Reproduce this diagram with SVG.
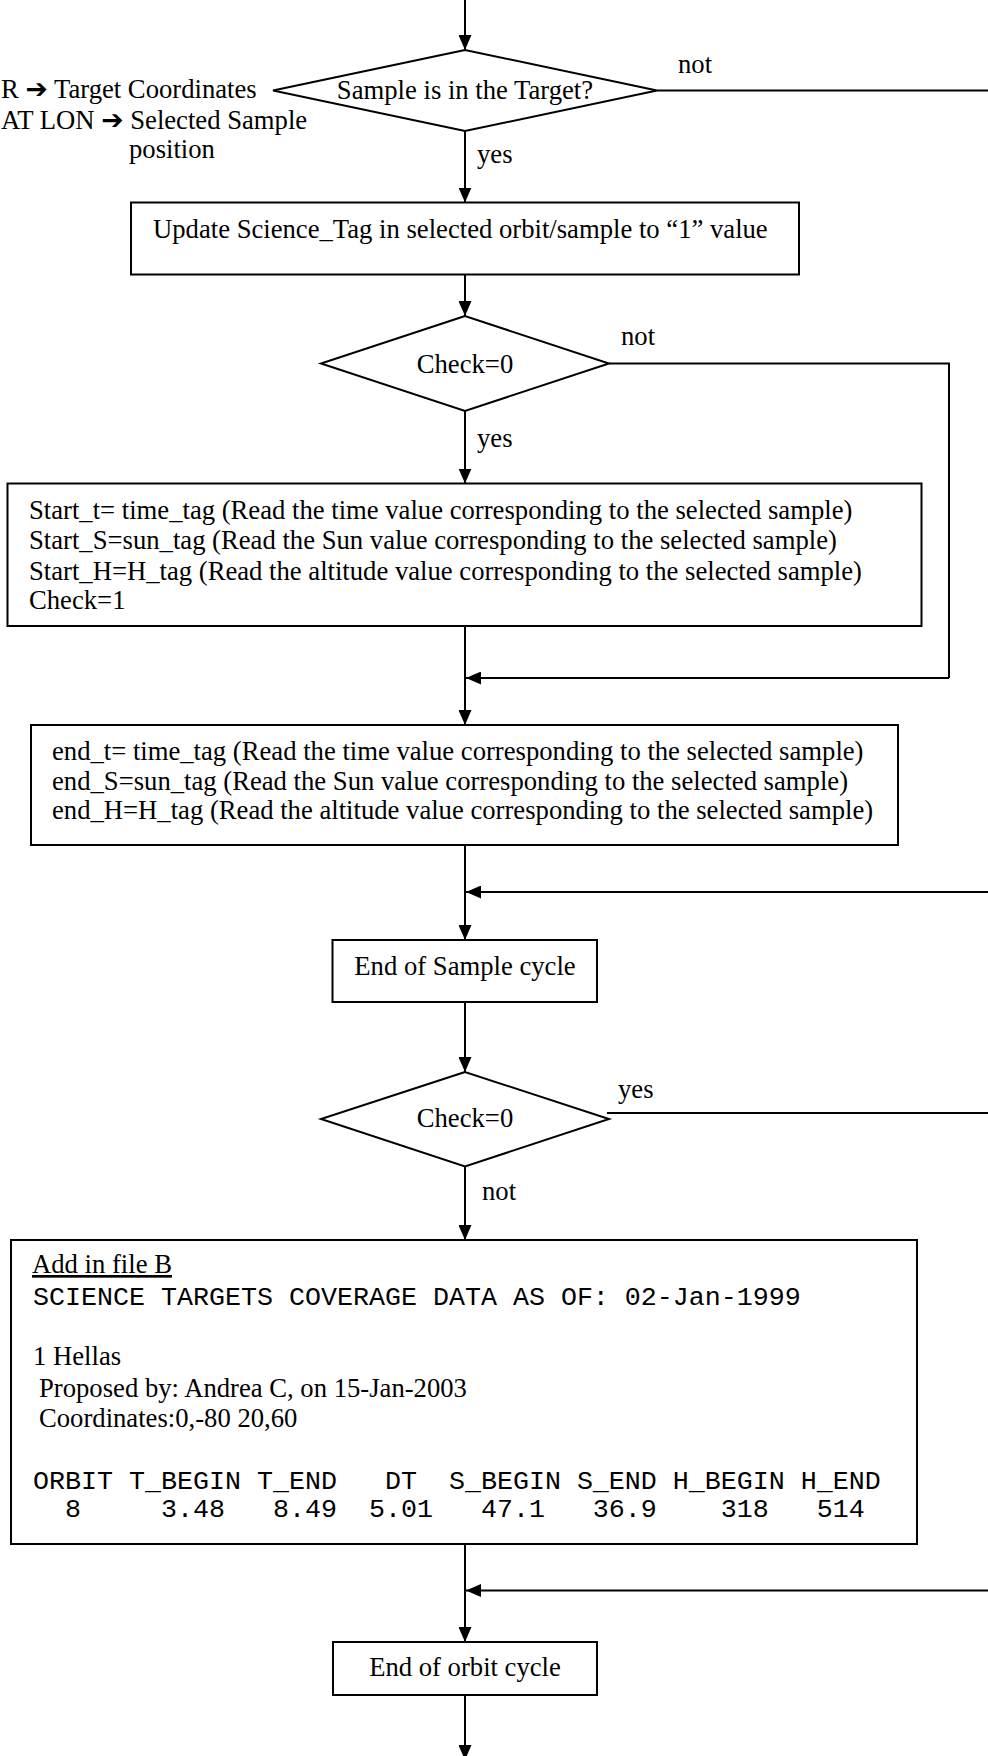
<svg xmlns="http://www.w3.org/2000/svg" width="988" height="1756" viewBox="0 0 988 1756">
<defs>
<style>
.s{font-family:"Liberation Serif","Times New Roman",serif;font-size:26.67px;fill:#000}
.m{font-family:"Liberation Mono","Courier New",monospace;font-size:26.67px;fill:#000}
.ar{font-family:"DejaVu Sans",sans-serif;font-weight:bold}
.c{text-anchor:middle}
.e{text-anchor:end}
.shape{fill:#fff;stroke:#000;stroke-width:2}
.ln{fill:none;stroke:#000;stroke-width:2}
.ah{marker-end:url(#arr)}
</style>
<marker id="arr" viewBox="0 0 15 13" refX="15" refY="6.5" markerWidth="15" markerHeight="13" markerUnits="userSpaceOnUse" orient="auto">
<path d="M0,0 L15,6.5 L0,13 z" fill="#000"/>
</marker>
</defs>
<rect width="988" height="1756" fill="#fff"/>

<g id="connectors">
<line class="ln ah" x1="465" y1="0" x2="465" y2="50"/>
<line class="ln" x1="657" y1="90.5" x2="988" y2="90.5"/>
<line class="ln ah" x1="465" y1="131" x2="465" y2="202.5"/>
<line class="ln ah" x1="465" y1="274.5" x2="465" y2="316"/>
<polyline class="ln" points="609,363.5 949,363.5 949,678"/>
<line class="ln ah" x1="949" y1="678" x2="466" y2="678"/>
<line class="ln ah" x1="465" y1="411" x2="465" y2="483.5"/>
<line class="ln ah" x1="465" y1="626" x2="465" y2="725"/>
<line class="ln ah" x1="465" y1="845" x2="465" y2="940"/>
<line class="ln ah" x1="988" y1="892" x2="466" y2="892"/>
<line class="ln ah" x1="465" y1="1002" x2="465" y2="1072"/>
<line class="ln" x1="607" y1="1113" x2="988" y2="1113"/>
<line class="ln ah" x1="465" y1="1166.5" x2="465" y2="1240"/>
<line class="ln ah" x1="465" y1="1544" x2="465" y2="1642"/>
<line class="ln ah" x1="988" y1="1590.5" x2="466" y2="1590.5"/>
<line class="ln ah" x1="465" y1="1695" x2="465" y2="1760"/>
</g>

<g id="labels">
<text class="s" x="678" y="73">not</text>
<text class="s" x="477" y="163">yes</text>
<text class="s" x="621" y="345">not</text>
<text class="s" x="477" y="447">yes</text>
<text class="s" x="618" y="1098">yes</text>
<text class="s" x="482" y="1200">not</text>
</g>

<g id="side-note">
<text class="s" x="1" y="98">R <tspan class="ar">➔</tspan> Target Coordinates</text>
<text class="s" x="1" y="129">AT LON <tspan class="ar">➔</tspan> Selected Sample</text>
<text class="s" x="129" y="158">position</text>
</g>

<g id="d-target">
<polygon class="shape" points="465,50 273,90.5 465,131 657,90.5"/>
<text class="s c" x="465" y="99">Sample is in the Target?</text>
</g>

<g id="b-update">
<rect class="shape" x="131" y="202.5" width="668" height="72"/>
<text class="s" x="153" y="238">Update Science_Tag in selected orbit/sample to “1” value</text>
</g>

<g id="d-check1">
<polygon class="shape" points="465,316 321,363.5 465,411 609,363.5"/>
<text class="s c" x="465" y="373">Check=0</text>
</g>

<g id="b-start">
<rect class="shape" x="7.5" y="483.5" width="914" height="142.5"/>
<text class="s" x="29" y="518.5">Start_t= time_tag (Read the time value corresponding to the selected sample)</text>
<text class="s" x="29" y="549">Start_S=sun_tag (Read the Sun value corresponding to the selected sample)</text>
<text class="s" x="29" y="579.5">Start_H=H_tag (Read the altitude value corresponding to the selected sample)</text>
<text class="s" x="29" y="609">Check=1</text>
</g>

<g id="b-end">
<rect class="shape" x="31" y="725" width="867" height="120"/>
<text class="s" x="52" y="760">end_t= time_tag (Read the time value corresponding to the selected sample)</text>
<text class="s" x="52" y="790">end_S=sun_tag (Read the Sun value corresponding to the selected sample)</text>
<text class="s" x="52" y="819">end_H=H_tag (Read the altitude value corresponding to the selected sample)</text>
</g>

<g id="b-sample-cycle">
<rect class="shape" x="332.5" y="940" width="264.5" height="62"/>
<text class="s c" x="465" y="975">End of Sample cycle</text>
</g>

<g id="d-check2">
<polygon class="shape" points="465,1072 321,1119 465,1166.5 609,1119"/>
<text class="s c" x="465" y="1127">Check=0</text>
</g>

<g id="b-file">
<rect class="shape" x="11" y="1240" width="906" height="304"/>
<text class="s" x="32" y="1273" text-decoration="underline">Add in file B</text>
<text class="m" x="33" y="1304.5">SCIENCE TARGETS COVERAGE DATA AS OF: 02-Jan-1999</text>
<text class="s" x="33" y="1365">1 Hellas</text>
<text class="s" x="39" y="1396.5">Proposed by: Andrea C, on 15-Jan-2003</text>
<text class="s" x="39" y="1427">Coordinates:0,-80 20,60</text>
<text class="m" x="33" y="1488.5" xml:space="preserve">ORBIT T_BEGIN T_END   DT  S_BEGIN S_END H_BEGIN H_END</text>
<text class="m" x="33" y="1516.5" xml:space="preserve">  8     3.48   8.49  5.01   47.1   36.9    318   514</text>
</g>

<g id="b-orbit-cycle">
<rect class="shape" x="333" y="1642" width="264" height="53"/>
<text class="s c" x="465" y="1676">End of orbit cycle</text>
</g>
</svg>
